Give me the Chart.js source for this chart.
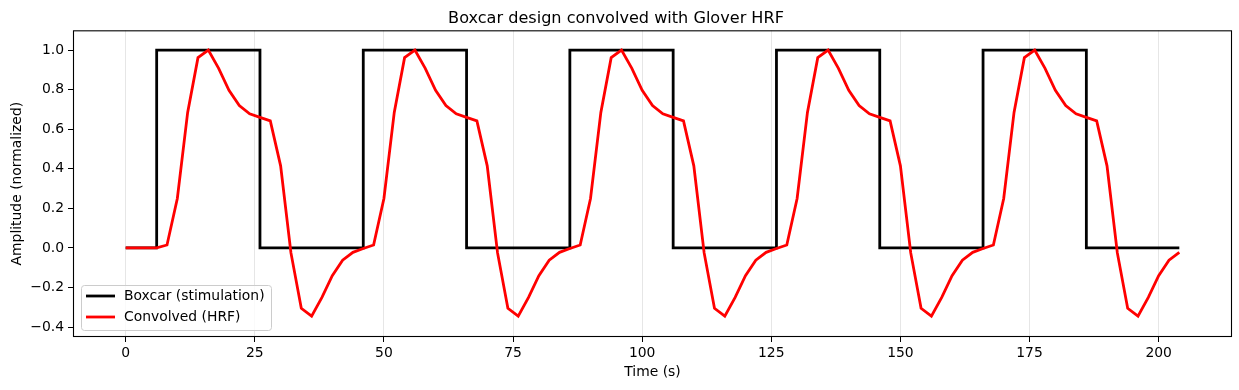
<!DOCTYPE html>
<html>
<head>
<meta charset="utf-8">
<script src="https://cdn.jsdelivr.net/npm/chart.js@4"></script>
<style>
  html, body { margin: 0; padding: 0; background: #fff; }
  #wrap { width: 1239px; height: 390px; }
</style>
</head>
<body>
<div id="wrap"><canvas id="boxcarChart"></canvas></div>
<script>
// sample times (s), TR = 2
var timeSec = [0, 2, 4, 6, 8, 10, 12, 14, 16, 18, 20, 22, 24, 26, 28, 30, 32, 34, 36, 38,
  40, 42, 44, 46, 48, 50, 52, 54, 56, 58, 60, 62, 64, 66, 68, 70, 72, 74, 76, 78,
  80, 82, 84, 86, 88, 90, 92, 94, 96, 98, 100, 102, 104, 106, 108, 110, 112, 114, 116, 118,
  120, 122, 124, 126, 128, 130, 132, 134, 136, 138, 140, 142, 144, 146, 148, 150, 152, 154, 156, 158,
  160, 162, 164, 166, 168, 170, 172, 174, 176, 178, 180, 182, 184, 186, 188, 190, 192, 194, 196, 198,
  200, 202, 204];

// Boxcar (stimulation)
var boxcar = [0, 0, 0, 1, 1, 1, 1, 1, 1, 1, 1, 1, 1, 0, 0, 0, 0, 0, 0, 0,
  0, 0, 0, 1, 1, 1, 1, 1, 1, 1, 1, 1, 1, 0, 0, 0, 0, 0, 0, 0,
  0, 0, 0, 1, 1, 1, 1, 1, 1, 1, 1, 1, 1, 0, 0, 0, 0, 0, 0, 0,
  0, 0, 0, 1, 1, 1, 1, 1, 1, 1, 1, 1, 1, 0, 0, 0, 0, 0, 0, 0,
  0, 0, 0, 1, 1, 1, 1, 1, 1, 1, 1, 1, 1, 0, 0, 0, 0, 0, 0, 0,
  0, 0, 0];

// Convolved (HRF), normalized
var convolved = [0, 0, 0, 0,
  0.015, 0.25, 0.685, 0.962, 1.0, 0.908, 0.797, 0.72, 0.678, 0.66, 0.642, 0.415, -0.025, -0.305, -0.345, -0.25, -0.14, -0.062, -0.022, -0.003,
  0.015, 0.25, 0.685, 0.962, 1.0, 0.908, 0.797, 0.72, 0.678, 0.66, 0.642, 0.415, -0.025, -0.305, -0.345, -0.25, -0.14, -0.062, -0.022, -0.003,
  0.015, 0.25, 0.685, 0.962, 1.0, 0.908, 0.797, 0.72, 0.678, 0.66, 0.642, 0.415, -0.025, -0.305, -0.345, -0.25, -0.14, -0.062, -0.022, -0.003,
  0.015, 0.25, 0.685, 0.962, 1.0, 0.908, 0.797, 0.72, 0.678, 0.66, 0.642, 0.415, -0.025, -0.305, -0.345, -0.25, -0.14, -0.062, -0.022, -0.003,
  0.015, 0.25, 0.685, 0.962, 1.0, 0.908, 0.797, 0.72, 0.678, 0.66, 0.642, 0.415, -0.025, -0.305, -0.345, -0.25, -0.14, -0.062, -0.022];

var xTicks = [0, 25, 50, 75, 100, 125, 150, 175, 200];
var yTicks = [-0.4, -0.2, 0.0, 0.2, 0.4, 0.6, 0.8, 1.0];

var FONT = "'DejaVu Sans', sans-serif";

function toPoints(xs, ys) {
  return xs.map(function (x, i) { return { x: x, y: ys[i] }; });
}

// matplotlib-ish frame + legend inside the axes
var axesDecor = {
  id: 'axesDecor',
  afterDatasetsDraw: function (chart) {
    var ctx = chart.ctx, a = chart.chartArea;
    ctx.save();
    ctx.strokeStyle = '#000';
    ctx.lineWidth = 1.1;
    ctx.strokeRect(a.left + 0.5, a.top + 0.5, a.right - a.left - 1, a.bottom - a.top - 1);

    // legend box, lower left
    var bx = a.left + 8, by = a.bottom - 52, bw = 190, bh = 45;
    ctx.beginPath();
    ctx.roundRect(bx + 0.5, by + 0.5, bw, bh, 3);
    ctx.fillStyle = 'rgba(255,255,255,0.8)';
    ctx.fill();
    ctx.strokeStyle = '#cccccc';
    ctx.lineWidth = 1;
    ctx.stroke();

    ctx.font = '13.9px ' + FONT;
    ctx.textBaseline = 'middle';
    ctx.textAlign = 'left';
    chart.data.datasets.forEach(function (ds, i) {
      var y = by + 11 + i * 21;
      ctx.beginPath();
      ctx.moveTo(bx + 5, y);
      ctx.lineTo(bx + 34, y);
      ctx.strokeStyle = ds.borderColor;
      ctx.lineWidth = 2.8;
      ctx.stroke();
      ctx.fillStyle = '#000';
      ctx.fillText(ds.label, bx + 43, y);
    });
    ctx.restore();
  }
};

const ctx = document.getElementById('boxcarChart').getContext('2d');
const boxcarChart = new Chart(ctx, {
  type: 'line',
  data: {
    datasets: [{
      label: 'Boxcar (stimulation)',
      data: toPoints(timeSec, boxcar),
      borderColor: '#000000',
      borderWidth: 2.8,
      stepped: 'before',
      pointRadius: 0,
      fill: false,
      order: 1
    }, {
      label: 'Convolved (HRF)',
      data: toPoints(timeSec, convolved),
      borderColor: '#ff0000',
      borderWidth: 2.8,
      tension: 0,
      pointRadius: 0,
      fill: false,
      order: 0
    }]
  },
  options: {
    responsive: true,
    maintainAspectRatio: false,
    devicePixelRatio: 1,
    animation: false,
    layout: { padding: { left: 0, right: 7, top: 0, bottom: 0 } },
    plugins: {
      legend: { display: false },
      tooltip: { enabled: false },
      title: {
        display: true,
        text: 'Boxcar design convolved with Glover HRF',
        color: '#000',
        font: { family: FONT, size: 16.1, weight: 'normal' },
        padding: { top: 9, bottom: 2 }
      }
    },
    scales: {
      x: {
        type: 'linear',
        min: -10.2,
        max: 214.2,
        afterBuildTicks: function (scale) {
          scale.ticks = xTicks.map(function (v) { return { value: v }; });
        },
        afterFit: function (scale) { scale.height = 53; },
        ticks: {
          color: '#000',
          font: { family: FONT, size: 13.9 },
          padding: 3,
          maxRotation: 0,
          callback: function (v) { return String(v); }
        },
        grid: {
          color: '#e6e6e6',
          lineWidth: 1,
          tickColor: '#000',
          tickLength: 5,
          tickWidth: 1
        },
        border: { display: false },
        title: {
          display: true,
          text: 'Time (s)',
          color: '#000',
          font: { family: FONT, size: 13.9 },
          padding: { top: 0, bottom: 9 }
        }
      },
      y: {
        type: 'linear',
        min: -0.45,
        max: 1.1,
        afterBuildTicks: function (scale) {
          scale.ticks = yTicks.map(function (v) { return { value: v }; });
        },
        afterFit: function (scale) { scale.width = 73; },
        ticks: {
          color: '#000',
          font: { family: FONT, size: 13.9 },
          padding: 4,
          callback: function (v) {
            var s = (Math.abs(v) < 1e-9 ? 0 : v).toFixed(1);
            return s.replace('-', '\u2212');
          }
        },
        grid: {
          drawOnChartArea: false,
          tickColor: '#000',
          tickLength: 5,
          tickWidth: 1
        },
        border: { display: false },
        title: {
          display: true,
          text: 'Amplitude (normalized)',
          color: '#000',
          font: { family: FONT, size: 13.9 },
          padding: { top: 9, bottom: 0 }
        }
      }
    }
  },
  plugins: [axesDecor]
});
</script>
</body>
</html>
